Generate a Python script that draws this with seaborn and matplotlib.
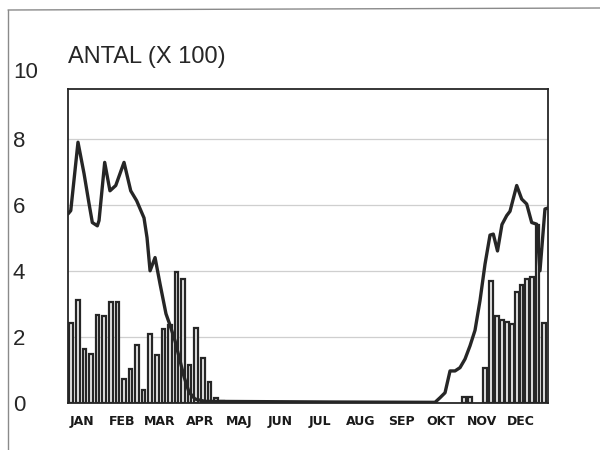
import numpy as np
import pandas as pd
import matplotlib
matplotlib.use("Agg")
import matplotlib.pyplot as plt
from matplotlib.lines import Line2D
import seaborn as sns

# Pentad counts (x 100) by day of year
bar_days = [2.5, 7.5, 12.5, 17.5, 22.5, 27.5, 32.5, 37.5, 42.5, 47.5, 52.5, 57.5,
            62.5, 67.5, 72.5, 77.5, 82.5, 87.5, 92.5, 97.5, 102.5, 107.5, 112.5, 117.5,
            301.1, 305.7,
            317.1, 321.6, 326.0, 329.8, 333.6, 337.4, 341.2, 345.0, 349.0, 352.8, 357.0, 362.0]
bar_counts = [2.43, 3.12, 1.63, 1.48, 2.66, 2.64, 3.06, 3.06, 0.72, 1.03, 1.75, 0.40,
              2.09, 1.45, 2.24, 2.35, 3.97, 3.74, 1.15, 2.28, 1.35, 0.63, 0.16, 0.05,
              0.18, 0.18,
              1.07, 3.70, 2.64, 2.50, 2.46, 2.39, 3.37, 3.58, 3.75, 3.82, 5.40, 2.43]

# Running level (x 100)
line_days = [0.0, 2.1, 7.6, 12.2, 16.0, 18.5, 22.3, 23.6, 27.9, 31.9, 36.3, 42.6, 47.7,
             52.2, 57.8, 60.1, 62.4, 66.2, 70.0, 74.5, 77.6, 81.4, 84.4, 88.2, 92.0,
             96.6, 104.2, 200.0, 279.1, 282.9, 286.7, 290.5, 294.3, 298.1, 301.9,
             305.7, 309.5, 313.3, 317.1, 320.9, 323.4, 326.6, 330.0, 333.6, 336.1,
             341.2, 345.0, 348.8, 352.6, 356.4, 358.9, 362.7, 365.0]
line_counts = [5.72, 5.82, 7.89, 6.94, 6.03, 5.46, 5.36, 5.52, 7.28, 6.42, 6.58, 7.28, 6.42,
               6.12, 5.60, 5.00, 4.00, 4.40, 3.60, 2.70, 2.35, 1.88, 1.40, 0.80, 0.33,
               0.12, 0.05, 0.03, 0.02, 0.16, 0.31, 0.97, 0.97, 1.07, 1.33,
               1.73, 2.20, 3.10, 4.20, 5.08, 5.11, 4.60, 5.40, 5.67, 5.80,
               6.58, 6.17, 6.02, 5.46, 5.41, 4.00, 5.87, 5.90]

months = ["JAN", "FEB", "MAR", "APR", "MAJ", "JUN", "JUL", "AUG", "SEP", "OKT", "NOV", "DEC"]
month_starts = [0, 31, 59, 90, 120, 151, 181, 212, 243, 273, 304, 334, 365]
y_ticks = [0, 2, 4, 6, 8]

bars = pd.DataFrame({"day": bar_days, "antal": bar_counts})
level = pd.DataFrame({"day": line_days, "antal": line_counts})

sns.set_style("white")
plt.rcParams["font.family"] = ["Liberation Sans", "DejaVu Sans"]

W, H = 600, 450
fig = plt.figure(figsize=(6, 4.5), dpi=100)
ax = fig.add_axes([68 / W, 1 - 403 / H, 480 / W, (403 - 89) / H])

ink = "#262626"
sns.barplot(data=bars, x="day", y="antal", native_scale=True, orient="x",
            width=0.72, color="#ededed", edgecolor=ink, linewidth=1.6,
            errorbar=None, ax=ax, zorder=2)
sns.lineplot(data=level, x="day", y="antal", color=ink, linewidth=2.4,
             ax=ax, zorder=3)

ax.set_xlim(0, 365)
ax.set_ylim(0, 9.5)
ax.set_xlabel("")
ax.set_ylabel("")

# horizontal reference lines
for v in y_ticks[1:]:
    ax.axhline(v, color="#cfcfcf", linewidth=0.9, zorder=1)

for s in ax.spines.values():
    s.set_color(ink)
    s.set_linewidth(1.3)

# y axis labels sit far out to the left, left-aligned
ax.set_yticks(y_ticks)
ax.set_yticklabels([str(v) for v in y_ticks], fontsize=16)
ax.tick_params(axis="y", length=0, pad=55 * 72 / 100)
for lbl in ax.get_yticklabels():
    lbl.set_horizontalalignment("left")

# month boundaries as tick marks, month names between them
ax.set_xticks(month_starts)
ax.set_xticklabels([])
ax.tick_params(axis="x", which="major", length=5, width=0.8, color="#9a9a9a")
ax.set_xticks([m + 10.5 for m in month_starts[:-1]], minor=True)
ax.set_xticklabels(months, minor=True, fontsize=9, fontweight="bold",
                   color="#1a1a1a", family=["DejaVu Sans"])
ax.tick_params(axis="x", which="minor", length=0, pad=8.5)

fig.text(68 / W, 1 - 57 / H, "ANTAL (X 100)", fontsize=17, ha="left", va="center")
fig.text(13 / W, 1 - 72 / H, "10", fontsize=16, ha="left", va="center")

# page border lines
fig.add_artist(Line2D([8 / W, 8 / W], [0, 1 - 10 / H], transform=fig.transFigure,
                      color="#8a8a8a", linewidth=1.0))
fig.add_artist(Line2D([8 / W, 1], [1 - 10 / H, 1 - 8 / H], transform=fig.transFigure,
                      color="#8a8a8a", linewidth=1.0))

fig.savefig("out.png", dpi=100)
